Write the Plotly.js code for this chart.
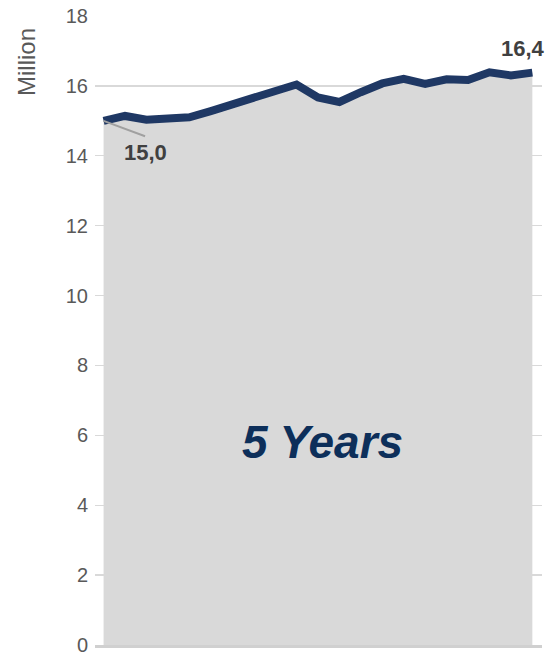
<!DOCTYPE html>
<html>
<head>
<meta charset="utf-8">
<script src="https://cdn.plot.ly/plotly-3.0.1.min.js"></script>
<style>html,body{margin:0;padding:0;background:#fff;}#chart{width:546px;height:655px;}</style>
</head>
<body>
<div id="chart"></div>
<script>
// Quarterly points over 5 years (21 observations)
const categories = ["Q1-15","Q2-15","Q3-15","Q4-15","Q1-16","Q2-16","Q3-16","Q4-16","Q1-17","Q2-17","Q3-17","Q4-17","Q1-18","Q2-18","Q3-18","Q4-18","Q1-19","Q2-19","Q3-19","Q4-19","Q1-20"];
const values = [15.0, 15.14, 15.03, 15.08, 15.1, 15.28, 15.46, 15.65, 15.85, 16.04, 15.67, 15.54, 15.82, 16.07, 16.2, 16.06, 16.19, 16.17, 16.39, 16.3, 16.38];
const yTicks = [0, 2, 4, 6, 8, 10, 12, 14, 16, 18];
const yTitle = "Million";
const periodLabel = "5 Years";

const fmt = v => v.toFixed(1).replace('.', ',');
const n = values.length;

const traces = [
  {
    x: categories, y: values, type: 'scatter', mode: 'lines',
    fill: 'tozeroy', fillcolor: '#D9D9D9',
    line: {width: 0, color: '#D9D9D9'}, hoverinfo: 'skip'
  },
  {
    x: categories, y: values, type: 'scatter', mode: 'lines',
    line: {width: 8, color: '#1F3864'}, hoverinfo: 'skip'
  }
];

const font = "'Liberation Sans', Arial, sans-serif";

const layout = {
  width: 546, height: 655,
  margin: {l: 95, r: 4, t: 16, b: 10},
  paper_bgcolor: '#ffffff', plot_bgcolor: '#ffffff',
  showlegend: false,
  font: {family: font, color: '#595959'},
  xaxis: {
    type: 'category', range: [-0.4, n - 1 + 0.45],
    showticklabels: false, ticks: '', showgrid: false, zeroline: false,
    showline: true, linecolor: '#D0D0D0', linewidth: 2.5, fixedrange: true
  },
  yaxis: {
    range: [0, 18], tickvals: yTicks, ticktext: yTicks.map(String),
    showgrid: true, gridcolor: '#D9D9D9', gridwidth: 1.3,
    zeroline: false, showline: false, ticks: '',
    tickfont: {size: 20, color: '#595959', family: font},
    ticklabelstandoff: 6, ticklabeloverflow: 'allow', fixedrange: true
  },
  annotations: [
    {
      xref: 'paper', yref: 'paper', x: -0.152, y: 0.927,
      text: yTitle, textangle: -90, showarrow: false,
      font: {size: 24, color: '#595959', family: font},
      xanchor: 'center', yanchor: 'middle'
    },
    {
      xref: 'paper', yref: 'y', x: 0.51, y: 5.8,
      text: '<b><i>' + periodLabel + '</i></b>', showarrow: false,
      font: {size: 46, color: '#0D2F5A', family: font},
      xanchor: 'center', yanchor: 'middle'
    },
    {
      // leader line for the first data label
      xref: 'x', yref: 'y', x: categories[0], y: values[0],
      text: ' ', showarrow: true,
      arrowhead: 0, arrowwidth: 2, arrowcolor: '#A0A0A0',
      ax: 43, ay: 16, standoff: 0, startstandoff: 0,
      font: {size: 1, color: '#404040', family: font}
    },
    {
      xref: 'x', yref: 'y', x: categories[0], y: values[0],
      text: '<b>' + fmt(values[0]) + '</b>', showarrow: false,
      xshift: 42, yshift: -32,
      font: {size: 22, color: '#404040', family: font}
    },
    {
      xref: 'x', yref: 'y', x: categories[n - 1], y: values[n - 1],
      text: '<b>' + fmt(values[n - 1]) + '</b>', showarrow: false,
      xshift: -9, yshift: 24,
      font: {size: 22, color: '#404040', family: font}
    }
  ]
};

Plotly.newPlot('chart', traces, layout, {displayModeBar: false, staticPlot: true});
</script>
</body>
</html>
